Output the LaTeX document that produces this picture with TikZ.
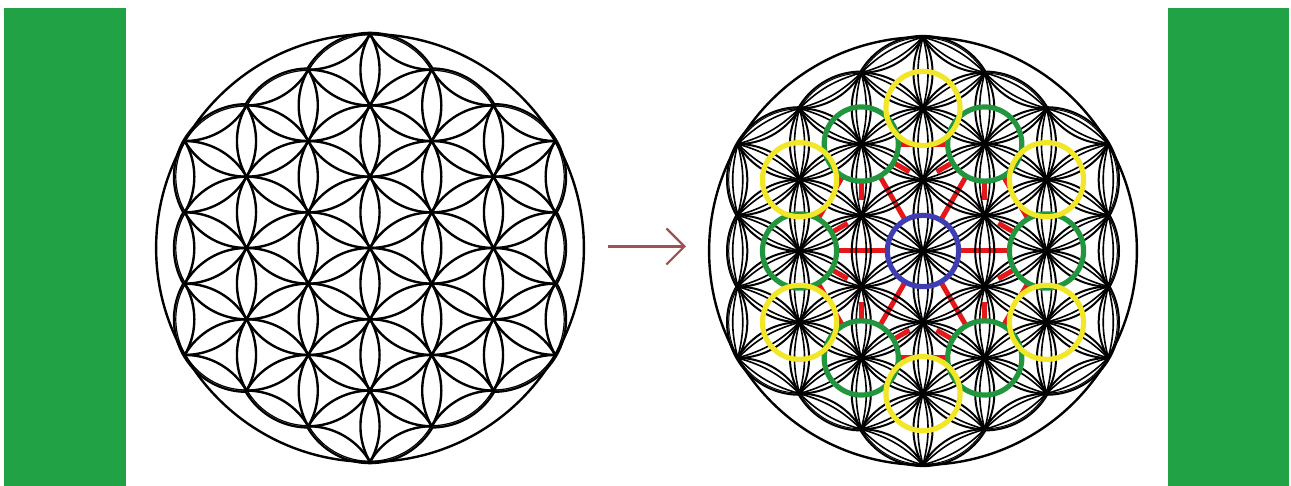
\documentclass[tikz,border=0pt]{standalone}
\usetikzlibrary{arrows.meta}
\definecolor{barGreen}{RGB}{33,163,69}
\definecolor{ringYellow}{RGB}{242,230,40}
\definecolor{ringGreen}{RGB}{34,150,62}
\definecolor{ringBlue}{RGB}{62,62,178}
\definecolor{hexRed}{RGB}{228,24,24}
\definecolor{arrowRed}{RGB}{160,82,82}
\tikzset{
  flowerline/.style={black, line width=1.2pt},
  thinflower/.style={black, line width=1.0pt},
  lensline/.style={black, line width=0.8pt},
  ringline/.style={line width=2.6pt},
  redline/.style={hexRed, line width=2.5pt},
}
\newcommand{\FolUnionPath}[1]{%
  \path[#1] (0,0) circle (1)
    \foreach \a in {30,90,...,330} {(\a:1) circle (1) (\a:2) circle (1)}
    \foreach \a in {0,60,...,300} {(\a:1.7320508) circle (1)};}
\newcommand{\FolClip}{%
  \clip (0,0) circle (1)
    \foreach \a in {30,90,...,330} {(\a:1) circle (1) (\a:2) circle (1)}
    \foreach \a in {0,60,...,300} {(\a:1.7320508) circle (1)};}
\newcommand{\FolCircles}[1]{%
  \foreach \i in {-7,...,7} {\foreach \j in {-5,...,5} {%
    \pgfmathsetmacro\px{\j*0.8660254}%
    \pgfmathsetmacro\py{\i+\j/2}%
    \pgfmathsetmacro\dd{\px*\px+\py*\py}%
    \ifdim\dd pt<16pt \draw[#1] (\px,\py) circle (1);\fi
  }}}
\newcommand{\FolLenses}{%
  \foreach \i in {-7,...,7} {\foreach \j in {-5,...,5} {%
    \pgfmathsetmacro\px{\j*0.8660254}%
    \pgfmathsetmacro\py{\i+\j/2}%
    \pgfmathsetmacro\dd{\px*\px+\py*\py}%
    \ifdim\dd pt<9.2pt
      \foreach \a in {30,90,150} {%
        \pgfmathsetmacro\qx{\px+cos(\a)}%
        \pgfmathsetmacro\qy{\py+sin(\a)}%
        \draw[lensline] (\px,\py) to[bend left=14] (\qx,\qy) to[bend left=14] (\px,\py);
      }%
    \fi
  }}}
\begin{document}
\begin{tikzpicture}[x=0.5pt,y=0.5pt]
\useasboundingbox (0,0) rectangle (1291,486);
\fill[white] (0,0) rectangle (1291,486);
\fill[barGreen] (4,0) rectangle (126,478);
\fill[barGreen] (1168,0) rectangle (1289,478);

% arrow
\coordinate (arrS) at (608,239.5);
\coordinate (arrE) at (686,239.5);
\draw[arrowRed, line width=1.1pt, -{Straight Barb[length=9pt,width=18pt]}] (arrS) -- (arrE);

% left flower of life
\begin{scope}[shift={(370,238)}, x=35.65pt, y=35.65pt]
  \FolUnionPath{draw=black, line width=2.4pt}
  \FolUnionPath{fill=white}
  \begin{scope}
    \FolClip
    \FolCircles{flowerline}
  \end{scope}
  \draw[flowerline] (0,0) circle (3);
\end{scope}

% right flower with rings
\begin{scope}[shift={(923,235)}, x=35.65pt, y=35.65pt]
  \coordinate (ctr) at (0,0);
  \foreach \k in {0,...,5} {\coordinate (g\k) at (\k*60:1.7320508);}
  \FolUnionPath{draw=black, line width=2.2pt}
  \FolUnionPath{fill=white}
  % red lines between the ring centres, hidden inside the rings
  \begin{scope}[even odd rule]
    \clip (-3.5,-3.5) rectangle (3.5,3.5) (0,0) circle (0.5)
      \foreach \a in {0,60,...,300} {(\a:1.7320508) circle (0.52)}
      \foreach \a in {30,90,...,330} {(\a:2) circle (0.52)};
    \foreach \k [evaluate=\k as \n using {int(mod(\k+1,6))}] in {0,...,5} {
      \draw[redline] (ctr) -- (g\k);
      \draw[redline] (g\k) -- (g\n);
      \draw[redline] (g\k) ++(\k*60+150:0.45) -- ++(\k*60+150:0.33);
      \draw[redline] (g\k) ++(\k*60+210:0.45) -- ++(\k*60+210:0.33);
    }
  \end{scope}
  \begin{scope}
    \FolClip
    \FolCircles{thinflower}
    \FolLenses
  \end{scope}
  \draw[flowerline] (0,0) circle (3);
  \draw[ringline, ringBlue] (0,0) circle (0.5);
  \foreach \a in {0,60,...,300} \draw[ringline, ringGreen] (\a:1.7320508) circle (0.52);
  \foreach \a in {30,90,...,330} \draw[ringline, ringYellow] (\a:2) circle (0.52);
\end{scope}
\end{tikzpicture}
\end{document}
